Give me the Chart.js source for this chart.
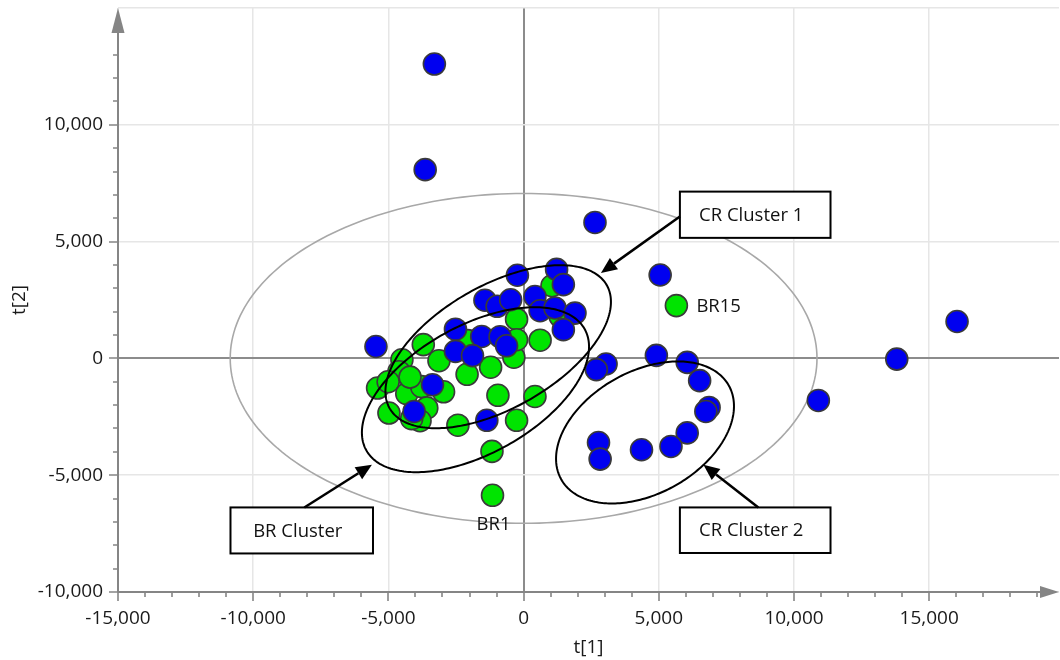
<!DOCTYPE html>
<html>
<head>
<meta charset="utf-8">
<title>PCA score plot t[1] / t[2]</title>
<script src="https://cdn.jsdelivr.net/npm/chart.js@4.4.1/dist/chart.umd.min.js"></script>
<style>
  html, body { margin: 0; padding: 0; background: #fff; }
  #wrap { width: 1060px; height: 660px; }
</style>
</head>
<body>
<div id="wrap"><canvas id="scoreChart" width="1060" height="660"></canvas></div>
<script>
// CR samples (blue): t[1], t[2] scores
const crT1 = [-3300, -3640, 2640, 5050, 16030, 13800, 10900, 4910, 6050, 6510,
              6860, 6740, 6050, 5450, 4360, 2770, 2830, 3050, 2690, -5460,
              -230, 1220, 1470, -1430, -980, -480, 420, 610, 1160, 1900,
              1470, -2520, -1550, -870, -630, -2520, -1890, -3370, -4050, -1360];
const crT2 = [12600, 8080, 5820, 3570, 1580, -30, -1800, 130, -170, -950,
              -2100, -2270, -3190, -3770, -3910, -3600, -4310, -240, -480, 510,
              3560, 3810, 3160, 2490, 2230, 2510, 2650, 2040, 2160, 1940,
              1230, 1250, 940, 930, 540, 300, 120, -1130, -2270, -2650];

// BR samples (green): first two are BR15 and BR1
const brT1 = [5650, -1150, -1170, -260, -950, 420, -2430, -2090, -1220, -3130,
              -3710, -360, 610, -260, 1050, -260, -2060, -4500, -4610, -5400,
              -5010, -4320, -3770, -2960, -3580, -4980, -3830, -4140, 1350, -4200];
const brT2 = [2260, -5860, -3980, -2650, -1580, -1630, -2860, -680, -380, -100,
              590, 50, 780, 1680, 3110, 800, 760, -60, -570, -1270,
              -1000, -1510, -1210, -1430, -2120, -2340, -2670, -2580, 1800, -800];
const brNames = ['BR15', 'BR1'];

const xTickValues = [-15000, -10000, -5000, 0, 5000, 10000, 15000];
const yTickValues = [-10000, -5000, 0, 5000, 10000];

// Hotelling T2 ellipse and hand-drawn cluster outlines (data units;
// rho = tilt of the outline, offset of the x-extreme as a share of ry)
const hotelling = { cx: 0, cy: 0, rx: 10850, ry: 7060, rho: 0 };
const clusterOutlines = [
  { cx: -1780, cy: -1340, rx: 4200, ry: 3530, rho: 0.52 },
  { cx: -940, cy: 500, rx: 4170, ry: 3490, rho: 0.55 },
  { cx: 4490, cy: -3170, rx: 3290, ry: 3040, rho: 0.37 }
];

// Callout boxes with arrows (data units)
const callouts = [
  { text: 'CR Cluster 1', box: [5780, 11350, 7140, 5160], from: [5780, 6070], to: [2860, 3660] },
  { text: 'BR Cluster', box: [-10840, -5570, -6380, -8350], from: [-8110, -6380], to: [-5610, -4550] },
  { text: 'CR Cluster 2', box: [5780, 11350, -6380, -8330], from: [8680, -6380], to: [6650, -4550] }
];

const tickFont = { family: '"Open Sans", "DejaVu Sans", sans-serif', size: 19 };
const noteFont = '18.5px "Open Sans", "DejaVu Sans", sans-serif';
const axisGrey = '#858585';

const fmt = v => v.toLocaleString('en-US');
const range = (a, b, s) => { const out = []; for (let v = a; v <= b; v += s) out.push(v); return out; };

function traceEllipse(ctx, xs, ys, e) {
  const k = Math.sqrt(1 - e.rho * e.rho);
  ctx.beginPath();
  for (let i = 0; i <= 240; i++) {
    const t = i / 240 * Math.PI * 2;
    const px = xs.getPixelForValue(e.cx + e.rx * Math.cos(t));
    const py = ys.getPixelForValue(e.cy + e.ry * (e.rho * Math.cos(t) + k * Math.sin(t)));
    if (i === 0) ctx.moveTo(px, py); else ctx.lineTo(px, py);
  }
  ctx.closePath();
}

function drawArrow(ctx, x0, y0, x1, y1) {
  const a = Math.atan2(y1 - y0, x1 - x0);
  const head = 16, half = 7;
  const bx = x1 - head * Math.cos(a), by = y1 - head * Math.sin(a);
  ctx.beginPath();
  ctx.moveTo(x0, y0);
  ctx.lineTo(bx, by);
  ctx.stroke();
  ctx.beginPath();
  ctx.moveTo(x1, y1);
  ctx.lineTo(bx + half * Math.sin(a), by - half * Math.cos(a));
  ctx.lineTo(bx - half * Math.sin(a), by + half * Math.cos(a));
  ctx.closePath();
  ctx.fill();
}

const scoreDecor = {
  id: 'scoreDecor',
  beforeDatasetsDraw(chart) {
    const { ctx, scales: { x, y } } = chart;
    ctx.save();
    ctx.strokeStyle = '#a8a8a8';
    ctx.lineWidth = 1.6;
    traceEllipse(ctx, x, y, hotelling);
    ctx.stroke();
    ctx.restore();
  },
  afterDatasetsDraw(chart) {
    const { ctx, chartArea: area, scales: { x, y } } = chart;
    ctx.save();

    // cluster outlines
    ctx.strokeStyle = '#000';
    ctx.lineWidth = 2;
    clusterOutlines.forEach(e => { traceEllipse(ctx, x, y, e); ctx.stroke(); });

    // axis lines, tick marks and arrow heads
    ctx.strokeStyle = axisGrey;
    ctx.fillStyle = axisGrey;
    ctx.lineWidth = 2;
    ctx.beginPath();
    ctx.moveTo(area.left, area.bottom);
    ctx.lineTo(area.left, area.top + 24);
    ctx.moveTo(area.left, area.bottom);
    ctx.lineTo(area.right - 18, area.bottom);
    ctx.stroke();
    ctx.beginPath();
    ctx.moveTo(area.left, area.top);
    ctx.lineTo(area.left - 6.5, area.top + 25);
    ctx.lineTo(area.left + 6.5, area.top + 25);
    ctx.closePath();
    ctx.fill();
    ctx.beginPath();
    ctx.moveTo(area.right, area.bottom);
    ctx.lineTo(area.right - 19, area.bottom - 6);
    ctx.lineTo(area.right - 19, area.bottom + 6);
    ctx.closePath();
    ctx.fill();

    ctx.lineWidth = 1.6;
    ctx.beginPath();
    range(-15000, 19000, 1000).forEach(v => {
      const px = Math.round(x.getPixelForValue(v));
      const len = v % 5000 === 0 ? 9 : 5;
      ctx.moveTo(px, area.bottom);
      ctx.lineTo(px, area.bottom + len);
    });
    range(-10000, 13000, 1000).forEach(v => {
      const py = Math.round(y.getPixelForValue(v));
      const len = v % 5000 === 0 ? 9 : 5;
      ctx.moveTo(area.left, py);
      ctx.lineTo(area.left - len, py);
    });
    ctx.stroke();

    // named samples
    const meta = chart.getDatasetMeta(1);
    ctx.fillStyle = '#111';
    ctx.font = noteFont;
    ctx.textBaseline = 'middle';
    brNames.forEach((name, i) => {
      const pt = meta.data[i];
      if (i === 0) {
        ctx.textAlign = 'left';
        ctx.fillText(name, pt.x + 20, pt.y + 1);
      } else {
        ctx.textAlign = 'center';
        ctx.fillText(name, pt.x + 1, pt.y + 29);
      }
    });

    // callouts
    callouts.forEach(c => {
      const l = x.getPixelForValue(c.box[0]), r = x.getPixelForValue(c.box[1]);
      const t = y.getPixelForValue(c.box[2]), b = y.getPixelForValue(c.box[3]);
      ctx.fillStyle = '#fff';
      ctx.fillRect(l, t, r - l, b - t);
      ctx.strokeStyle = '#000';
      ctx.lineWidth = 2;
      ctx.strokeRect(l, t, r - l, b - t);
      ctx.fillStyle = '#111';
      ctx.textAlign = 'center';
      ctx.fillText(c.text, (l + r) / 2 - 4, (t + b) / 2 + 1);
      ctx.fillStyle = '#000';
      ctx.lineWidth = 2.5;
      drawArrow(ctx, x.getPixelForValue(c.from[0]), y.getPixelForValue(c.from[1]),
                x.getPixelForValue(c.to[0]), y.getPixelForValue(c.to[1]));
    });
    ctx.restore();
  }
};

const gridColor = v => v === 0 ? '#8c8c8c' : (v % 5000 === 0 ? '#e6e6e6' : 'rgba(0,0,0,0)');

// fixed axis boxes so the plot area sits at 118..1059 x 8..592
const fixBox = (s, prop, size) => {
  s[prop] = size;
  s.paddingLeft = 0; s.paddingRight = 0; s.paddingTop = 0; s.paddingBottom = 0;
};

new Chart(document.getElementById('scoreChart'), {
  type: 'scatter',
  data: {
    datasets: [
      {
        label: 'CR',
        data: crT1.map((v, i) => ({ x: v, y: crT2[i] })),
        backgroundColor: '#0000f0',
        borderColor: '#3a3a3a',
        borderWidth: 1.6,
        pointRadius: 11,
        pointHoverRadius: 11
      },
      {
        label: 'BR',
        data: brT1.map((v, i) => ({ x: v, y: brT2[i] })),
        backgroundColor: '#00e400',
        borderColor: '#3a3a3a',
        borderWidth: 1.6,
        pointRadius: 11,
        pointHoverRadius: 11
      }
    ]
  },
  options: {
    responsive: false,
    animation: false,
    devicePixelRatio: 1,
    layout: { autoPadding: false, padding: { top: 8, right: 1, left: 0, bottom: 0 } },
    plugins: { legend: { display: false }, tooltip: { enabled: false } },
    scales: {
      x: {
        type: 'linear',
        min: -15000,
        max: 19800,
        afterFit: s => fixBox(s, 'height', 68),
        afterBuildTicks: s => { s.ticks = range(-15000, 19000, 1000).map(v => ({ value: v })); },
        border: { display: false },
        grid: {
          drawTicks: false,
          color: c => gridColor(c.tick.value),
          lineWidth: c => c.tick.value === 0 ? 2 : 1.5
        },
        ticks: {
          autoSkip: false,
          maxRotation: 0,
          padding: 15,
          color: '#1a1a1a',
          font: tickFont,
          callback: v => xTickValues.includes(v) ? fmt(v) : ''
        },
        title: { display: true, text: 't[1]', color: '#1a1a1a', font: tickFont, padding: { top: 0, bottom: 1 } }
      },
      y: {
        type: 'linear',
        min: -10000,
        max: 15000,
        afterFit: s => fixBox(s, 'width', 118),
        afterBuildTicks: s => { s.ticks = range(-10000, 15000, 1000).map(v => ({ value: v })); },
        border: { display: false },
        grid: {
          drawTicks: false,
          color: c => gridColor(c.tick.value),
          lineWidth: c => c.tick.value === 0 ? 2 : 1.5
        },
        ticks: {
          autoSkip: false,
          padding: 15,
          color: '#1a1a1a',
          font: tickFont,
          callback: v => yTickValues.includes(v) ? fmt(v) : ''
        },
        title: { display: true, text: 't[2]', color: '#1a1a1a', font: tickFont, padding: { top: 8, bottom: 0 } }
      }
    }
  },
  plugins: [scoreDecor]
});
</script>
</body>
</html>
